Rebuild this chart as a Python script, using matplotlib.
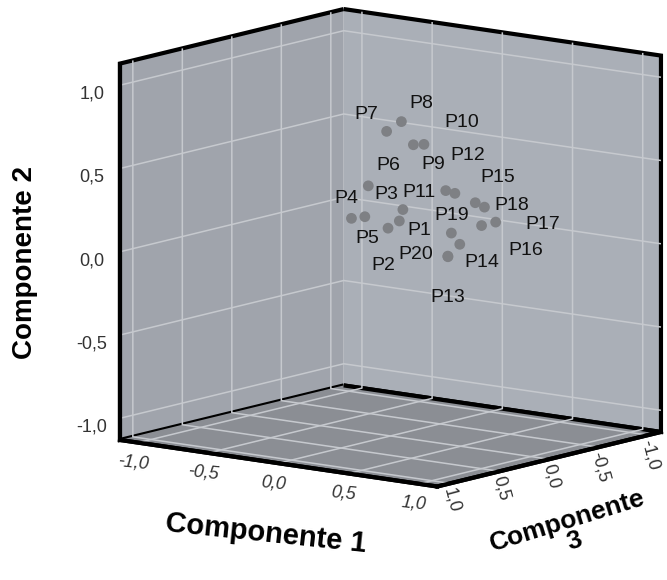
import numpy as np
import matplotlib
matplotlib.use("Agg")
import matplotlib.pyplot as plt
from mpl_toolkits.mplot3d import proj3d

# Component loadings (rotated solution), one entry per item
labels = ['P1', 'P2', 'P3', 'P4', 'P5', 'P6', 'P7', 'P8', 'P9', 'P10',
          'P11', 'P12', 'P13', 'P14', 'P15', 'P16', 'P17', 'P18', 'P19', 'P20']
comp1 = [0.31, 0.30, 0.30, 0.11, 0.17, 0.23, 0.29, 0.36, 0.41, 0.45,
         0.57, 0.60, 0.48, 0.67, 0.71, 0.79, 0.82, 0.74, 0.61, 0.62]
comp2 = [0.25, 0.22, 0.31, 0.27, 0.28, 0.48, 0.80, 0.86, 0.72, 0.72,
         0.45, 0.43, 0.02, 0.14, 0.38, 0.26, 0.27, 0.35, 0.20, 0.07]
comp3 = [0.35, 0.45, 0.30, 0.55, 0.50, 0.55, 0.45, 0.40, 0.35, 0.30,
         0.25, 0.20, 0.10, 0.25, 0.15, 0.20, 0.10, 0.10, 0.25, 0.30]

# label offsets from the marker, in pixels (right, up)
lab_dx = [20, -5, -17, -5, 2, 20, -20, 20, 20, 38,
          -27, 13, 0, 22, 22, 44, 47, 27, 0, -32]
lab_dy = [-10, -37, 15, 20, -22, 20, 17, 18, -20, 22,
          -2, 38, -41, -18, 25, -25, -2, 2, 18, 2]

ticks = [-1.0, -0.5, 0.0, 0.5, 1.0]
tick_labels = ['-1,0', '-0,5', '0,0', '0,5', '1,0']
lim = 1.13

plt.rcParams['font.family'] = ['Liberation Sans', 'DejaVu Sans']
plt.rcParams['grid.color'] = '#c6c9ce'
plt.rcParams['grid.linewidth'] = 1.1

fig = plt.figure(figsize=(6.67, 5.8), dpi=100)
ax = fig.add_axes([0.176, 0.162, 0.8, 0.8], projection='3d')
ax.set_proj_type('ortho')
ax.view_init(elev=10.9, azim=-52.2)
ax.set_box_aspect((1.10, 1.0, 1.05), zoom=1.39)

# x = componente 1, y = componente 3 (reversed), z = componente 2
ax.set_xlim(-lim, lim)
ax.set_ylim(lim, -lim)
ax.set_zlim(-lim, lim)

ax.xaxis.set_pane_color('#a0a4ac')
ax.yaxis.set_pane_color('#aaafb7')
ax.zaxis.set_pane_color('#8b8e94')
for axis in (ax.xaxis, ax.yaxis, ax.zaxis):
    axis.pane.set_edgecolor('black')
    axis.pane.set_linewidth(3)
    axis.line.set_color('black')
    axis.line.set_linewidth(3)

ax.set_xticks(ticks, tick_labels, rotation=-6, fontsize=13, color='#333333', style='italic')
ax.set_yticks(ticks, tick_labels, rotation=-75, fontsize=13, color='#333333')
ax.set_zticks(ticks, tick_labels, fontsize=13, color='#333333')
ax.zaxis.set_ticks_position('upper')
ax.tick_params(axis='x', color='none', pad=-4)
ax.tick_params(axis='y', color='none', pad=-7)
ax.tick_params(axis='z', color='none', pad=1)

ax.scatter(comp1, comp3, comp2, s=60, c='#7e8084', edgecolors='none',
           depthshade=False)

# point labels as 2D annotations at the projected marker positions
fig.canvas.draw()
px, py, _ = proj3d.proj_transform(np.array(comp1), np.array(comp3),
                                  np.array(comp2), ax.get_proj())
for name, x, y, dx, dy in zip(labels, px, py, lab_dx, lab_dy):
    ax.annotate(name, xy=(x, y), xycoords='data', xytext=(dx, dy),
                textcoords='offset pixels', fontsize=14, color='#111111',
                ha='center', va='center', zorder=10)

fig.text(0.037, 0.548, 'Componente 2', rotation=90, fontsize=20,
         fontweight='bold', ha='center', va='center')
fig.text(0.399, 0.08, 'Componente 1', rotation=-6, fontsize=21,
         fontweight='bold', ha='center', va='center')
fig.text(0.856, 0.085, 'Componente\n3', rotation=17, fontsize=19,
         fontweight='bold', ha='center', va='center', linespacing=0.85)

fig.savefig('out.png', dpi=100)
